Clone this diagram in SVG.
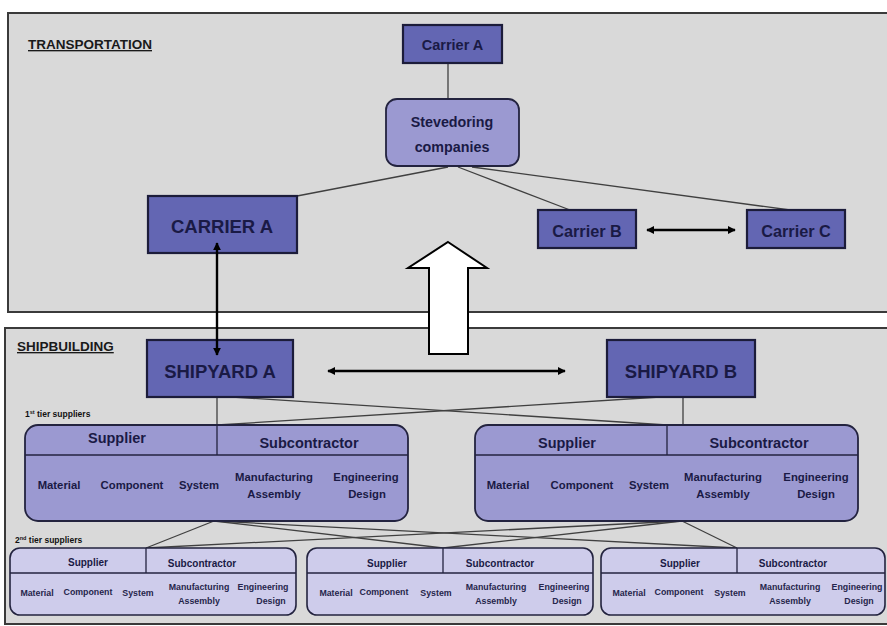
<svg xmlns="http://www.w3.org/2000/svg" width="887" height="626" viewBox="0 0 887 626">
<defs>
<marker id="ah" viewBox="0 0 10 10" refX="9" refY="5" markerWidth="8" markerHeight="8" markerUnits="userSpaceOnUse" orient="auto-start-reverse">
<path d="M0,0 L10,5 L0,10 z" fill="#000"/>
</marker>
</defs>
<style>
.panel{fill:#d9d9d9;stroke:#3a3a3a;stroke-width:2}
.dark{fill:#6366b3;stroke:#1c1c3a;stroke-width:2.2}
.mid{fill:#9b99d1;stroke:#23233f;stroke-width:1.8}
.light{fill:#cecceb;stroke:#23233f;stroke-width:1.6}
.div{stroke:#23233f;stroke-width:1.3;fill:none}
.ln{stroke:#404040;stroke-width:1.3;fill:none}
.arr{stroke:#000;stroke-width:2.4;fill:none;marker-start:url(#ah);marker-end:url(#ah)}
text{font-family:"Liberation Sans",Arial,sans-serif;font-weight:bold;fill:#1a1a45;text-anchor:middle}
.ttl{font-size:13.5px;fill:#1a1a1a;text-anchor:start;text-decoration:underline}
.t1{font-size:14.5px}
.t2{font-size:11.3px}
.h2{font-size:10px}
.r2{font-size:8.8px;fill:#26264c}
.tier{font-size:8.5px;fill:#111;text-anchor:start}
</style>

<rect class="panel" x="8" y="13" width="890" height="299"/>
<rect class="panel" x="5" y="328" width="890" height="296"/>
<text class="ttl" x="28" y="49">TRANSPORTATION</text>
<text class="ttl" x="17" y="351">SHIPBUILDING</text>
<text class="tier" x="25" y="417">1<tspan font-size="5.5px" dy="-3">st</tspan><tspan dy="3"> tier suppliers</tspan></text>
<text class="tier" x="15" y="543">2<tspan font-size="5.5px" dy="-3">nd</tspan><tspan dy="3"> tier suppliers</tspan></text>

<g id="connectors">
<line class="ln" x1="448" y1="63" x2="448" y2="99"/>
<line class="ln" x1="448" y1="167" x2="297" y2="196"/>
<line class="ln" x1="458" y1="167" x2="570" y2="210"/>
<line class="ln" x1="472" y1="167" x2="790" y2="210"/>
<line class="ln" x1="217" y1="397" x2="217" y2="425"/>
<line class="ln" x1="683" y1="397" x2="683" y2="425"/>
<line class="ln" x1="232" y1="397" x2="667" y2="425"/>
<line class="ln" x1="217" y1="425" x2="660" y2="397"/>
<line class="ln" x1="214" y1="521" x2="146" y2="548"/>
<line class="ln" x1="214" y1="521" x2="443" y2="548"/>
<line class="ln" x1="214" y1="521" x2="737" y2="548"/>
<line class="ln" x1="682" y1="521" x2="146" y2="548"/>
<line class="ln" x1="682" y1="521" x2="443" y2="548"/>
<line class="ln" x1="682" y1="521" x2="737" y2="548"/>
</g>

<g id="carrierA-top">
<rect class="dark" x="403" y="25" width="99" height="38"/>
<text class="t1" x="452.5" y="50" font-size="16.5px">Carrier A</text>
</g>
<g id="stevedoring">
<rect class="mid" x="386" y="99" width="133" height="67" rx="11"/>
<text x="452" y="127" font-size="14.3px">Stevedoring</text>
<text x="452" y="152" font-size="14.3px">companies</text>
</g>
<g id="carrierA">
<rect class="dark" x="148" y="196" width="149" height="57"/>
<text x="222" y="233" font-size="18.5px">CARRIER A</text>
</g>
<g id="carrierB">
<rect class="dark" x="538" y="210" width="98" height="38"/>
<text x="587" y="237" font-size="16.3px">Carrier B</text>
</g>
<g id="carrierC">
<rect class="dark" x="747" y="210" width="98" height="38"/>
<text x="796" y="237" font-size="16.3px">Carrier C</text>
</g>

<g id="shipyardA">
<rect class="dark" x="147" y="340" width="146" height="57"/>
<text x="220" y="378" font-size="18.5px">SHIPYARD A</text>
</g>
<g id="shipyardB">
<rect class="dark" x="607" y="340" width="148" height="57"/>
<text x="681" y="378" font-size="18.5px">SHIPYARD B</text>
</g>

<g id="tier1-left">
<rect class="mid" x="25" y="425" width="383" height="96" rx="13"/>
<line class="div" x1="25" y1="455" x2="408" y2="455"/>
<line class="div" x1="217" y1="425" x2="217" y2="455"/>
<text class="t1" x="117" y="443">Supplier</text>
<text class="t1" x="309" y="448">Subcontractor</text>
<text class="t2" x="59" y="489">Material</text>
<text class="t2" x="132" y="489">Component</text>
<text class="t2" x="199" y="489">System</text>
<text class="t2" x="274" y="481">Manufacturing</text>
<text class="t2" x="274" y="498">Assembly</text>
<text class="t2" x="366" y="481">Engineering</text>
<text class="t2" x="367" y="498">Design</text>
</g>
<g id="tier1-right">
<rect class="mid" x="475" y="425" width="383" height="96" rx="13"/>
<line class="div" x1="475" y1="455" x2="858" y2="455"/>
<line class="div" x1="667" y1="425" x2="667" y2="455"/>
<text class="t1" x="567" y="448">Supplier</text>
<text class="t1" x="759" y="448">Subcontractor</text>
<text class="t2" x="508" y="489">Material</text>
<text class="t2" x="582" y="489">Component</text>
<text class="t2" x="649" y="489">System</text>
<text class="t2" x="723" y="481">Manufacturing</text>
<text class="t2" x="723" y="498">Assembly</text>
<text class="t2" x="816" y="481">Engineering</text>
<text class="t2" x="816" y="498">Design</text>
</g>

<g id="tier2-left">
<rect class="light" x="10" y="548" width="286" height="67" rx="10"/>
<line class="div" x1="10" y1="573" x2="296" y2="573"/>
<line class="div" x1="146" y1="548" x2="146" y2="573"/>
<text class="h2" x="88" y="566">Supplier</text>
<text class="h2" x="202" y="567">Subcontractor</text>
<text class="r2" x="37" y="596">Material</text>
<text class="r2" x="88" y="595">Component</text>
<text class="r2" x="138" y="596">System</text>
<text class="r2" x="199" y="590">Manufacturing</text>
<text class="r2" x="199" y="604">Assembly</text>
<text class="r2" x="263" y="590">Engineering</text>
<text class="r2" x="271" y="604">Design</text>
</g>
<g id="tier2-middle">
<rect class="light" x="307" y="548" width="286" height="67" rx="10"/>
<line class="div" x1="307" y1="573" x2="593" y2="573"/>
<line class="div" x1="443" y1="548" x2="443" y2="573"/>
<text class="h2" x="387" y="567">Supplier</text>
<text class="h2" x="500" y="567">Subcontractor</text>
<text class="r2" x="336" y="596">Material</text>
<text class="r2" x="384" y="595">Component</text>
<text class="r2" x="436" y="596">System</text>
<text class="r2" x="496" y="590">Manufacturing</text>
<text class="r2" x="496" y="604">Assembly</text>
<text class="r2" x="564" y="590">Engineering</text>
<text class="r2" x="567" y="604">Design</text>
</g>
<g id="tier2-right">
<rect class="light" x="601" y="548" width="284" height="67" rx="10"/>
<line class="div" x1="601" y1="573" x2="885" y2="573"/>
<line class="div" x1="737" y1="548" x2="737" y2="573"/>
<text class="h2" x="680" y="567">Supplier</text>
<text class="h2" x="793" y="567">Subcontractor</text>
<text class="r2" x="629" y="596">Material</text>
<text class="r2" x="679" y="595">Component</text>
<text class="r2" x="730" y="596">System</text>
<text class="r2" x="790" y="590">Manufacturing</text>
<text class="r2" x="790" y="604">Assembly</text>
<text class="r2" x="857" y="590">Engineering</text>
<text class="r2" x="859" y="604">Design</text>
</g>

<g id="arrows">
<polygon points="448,242 487,268 468,268 468,354 429,354 429,268 408,268" fill="#fff" stroke="#000" stroke-width="2"/>
<line class="arr" x1="217" y1="243" x2="217" y2="355"/>
<line class="arr" x1="328" y1="371" x2="565" y2="371"/>
<line class="arr" x1="647" y1="230" x2="735" y2="230" stroke-width="2"/>
</g>
</svg>
